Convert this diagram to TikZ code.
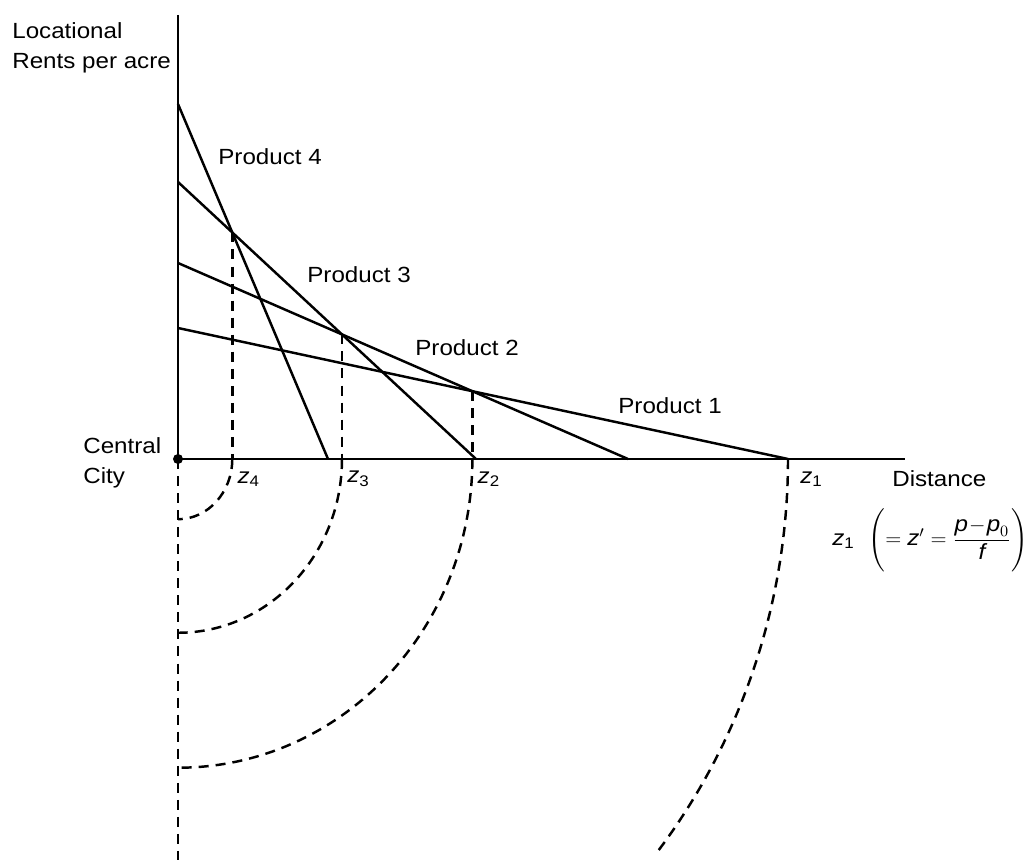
\documentclass[tikz,border=0pt]{standalone}
\usepackage{amsmath}
\usepackage{fontspec}
\setmainfont{Liberation Sans}[FakeStretch=1.1]
\usetikzlibrary{calc}

\tikzset{
  rentline/.style={line width=1.4pt},
  zonedash/.style={line width=1.4pt,dash pattern=on 5.7pt off 4pt},
  lbl/.style={inner sep=0pt,font=\fontsize{12.5}{17}\selectfont},
}

\begin{document}
\begin{tikzpicture}[line cap=butt,line join=round,x=0.02cm,y=0.02cm]
\useasboundingbox (-178,-405) rectangle (853,459);
% axes
\coordinate (O) at (0,0);
\coordinate (ytop) at (0,444);
\coordinate (xend) at (727,0);
\draw [rentline] (ytop) -- (O) -- (xend);
% bid-rent lines of the four products
\coordinate (a4) at (0,355);
\coordinate (b4) at (150,0);
\coordinate (a3) at (0,277);
\coordinate (b3) at (298,0);
\coordinate (a2) at (0,196);
\coordinate (b2) at (450,0);
\coordinate (a1) at (0,131);
\coordinate (b1) at (610,0);
\draw [rentline] (a4) -- (b4);
\draw [rentline] (a3) -- (b3);
\draw [rentline] (a2) -- (b2);
\draw [rentline] (a1) -- (b1);
% where one product outbids the next
\coordinate (i4) at (intersection of a4--b4 and a3--b3);
\coordinate (i3) at (intersection of a3--b3 and a2--b2);
\coordinate (i2) at (intersection of a2--b2 and a1--b1);
\draw [zonedash] (i4) -- (i4 |- O);
\draw [zonedash] (i3) -- (i3 |- O);
\draw [zonedash] (i2) -- (i2 |- O);
% rings round the city
\draw [zonedash] (O) -- (0,-401);
\draw [zonedash] let \p1=(i4) in (\x1,0) arc[start angle=0,end angle=-90,x radius=\x1,y radius={1.035*\x1+2.3pt}];
\draw [zonedash] let \p1=(i3) in (\x1,0) arc[start angle=0,end angle=-90,x radius=\x1,y radius={1.035*\x1+2.3pt}];
\draw [zonedash] let \p1=(i2) in (\x1,0) arc[start angle=0,end angle=-90,x radius=\x1,y radius={1.035*\x1+2.3pt}];
\draw [zonedash] let \p1=(b1) in (b1) arc[start angle=0,end angle=-38.3,x radius=\x1,y radius={1.035*\x1+2.3pt}];
\fill (O) circle (5);
% labels
\node [lbl,anchor=north west,align=left] (rent) at (-166,437) {Locational\\Rents per acre};
\node [lbl,anchor=west,align=left] (city) at (-95,-4) {Central\\City};
\node [lbl,anchor=west] (dist) at (714,-20) {Distance};
\node [lbl,anchor=west] (p4) at (40,302) {Product 4};
\node [lbl,anchor=west] (p3) at (129,184) {Product 3};
\node [lbl,anchor=west] (p2) at (237,111) {Product 2};
\node [lbl,anchor=west] (p1) at (440,53) {Product 1};
\node [lbl,anchor=west] (z4) at ($(i4 |- O)+(5,-20)$) {\textit{z}\textsubscript{4}};
\node [lbl,anchor=west] (z3) at ($(i3 |- O)+(5,-20)$) {\textit{z}\textsubscript{3}};
\node [lbl,anchor=west] (z2) at ($(i2 |- O)+(5,-20)$) {\textit{z}\textsubscript{2}};
\node [lbl,anchor=west] (z1) at ($(b1)+(12,-20)$) {\textit{z}\textsubscript{1}};
\node [lbl,anchor=west] (zprime) at (654,-81) {\textit{z}\textsubscript{1}\hspace{8pt}$\Biggl(\mathord{=}\;\textit{z}'\;\mathord{=}\;\dfrac{\textit{p}\mathbin{\!-\!}\textit{p}_0}{\;\textit{f}\;}\Biggr)$};
\end{tikzpicture}
\end{document}
